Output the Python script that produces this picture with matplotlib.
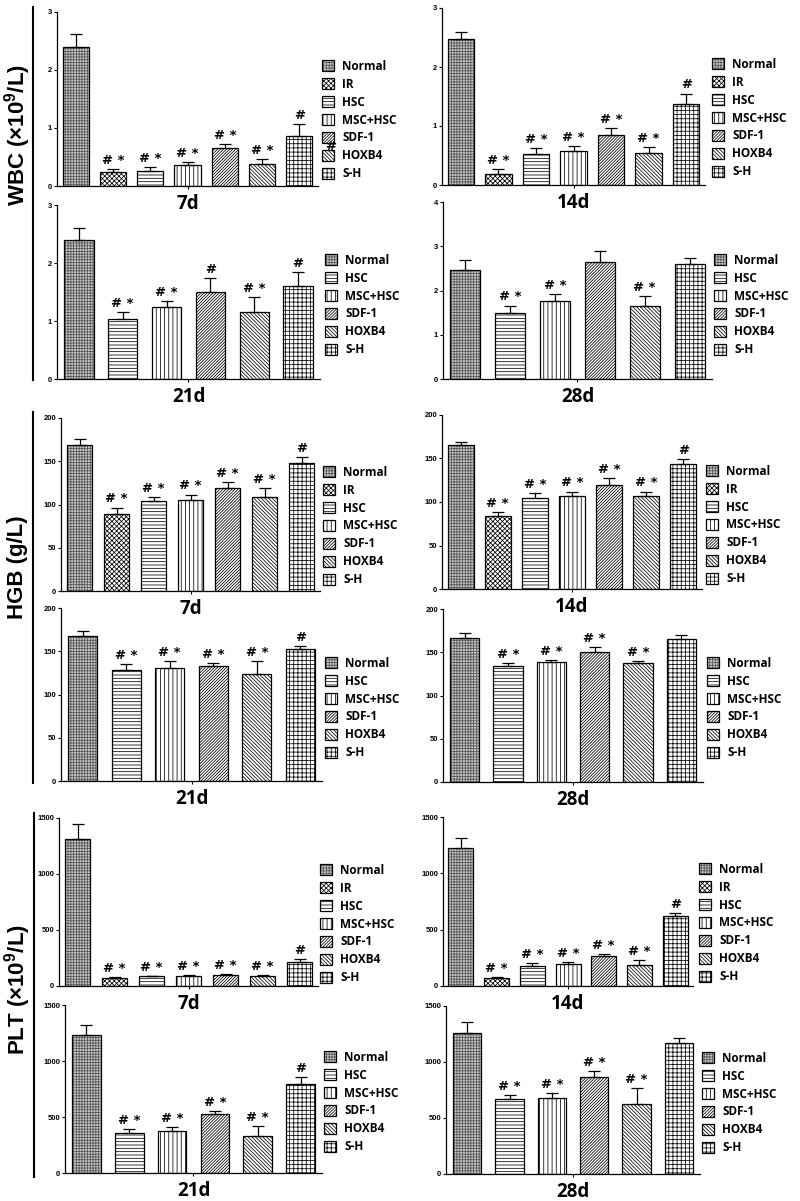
##############################
#   MODULE IMPORTS
##############################
import numpy as np

## Graphics modules
import matplotlib as mpl
mpl.rcParams['hatch.linewidth'] = 0.55
mpl.rcParams['font.family'] = ['Open Sans', 'DejaVu Sans']
mpl.rcParams['mathtext.fontset'] = 'custom'
mpl.rcParams['mathtext.rm'] = 'Liberation Sans'
mpl.rcParams['mathtext.bf'] = 'Liberation Sans:bold'
from matplotlib import pyplot as plt
from matplotlib.patches import Patch
from matplotlib.lines import Line2D

W, H = 800, 1201

##############################
#   DATA
##############################
groups_ir = ['Normal', 'IR', 'HSC', 'MSC+HSC', 'SDF-1', 'HOXB4', 'S-H']
groups_no_ir = ['Normal', 'HSC', 'MSC+HSC', 'SDF-1', 'HOXB4', 'S-H']
days = ['7d', '14d', '21d', '28d']

# - WBC (x10^9/L), one list per day
wbc_mean = [
	[2.40, 0.25, 0.26, 0.36, 0.66, 0.38, 0.86],
	[2.48, 0.18, 0.52, 0.57, 0.84, 0.54, 1.38],
	[2.40, 1.04, 1.25, 1.50, 1.16, 1.60],
	[2.47, 1.50, 1.76, 2.65, 1.64, 2.60],
]
wbc_err = [
	[0.22, 0.05, 0.06, 0.05, 0.06, 0.09, 0.21],
	[0.11, 0.09, 0.11, 0.09, 0.12, 0.11, 0.17],
	[0.20, 0.11, 0.10, 0.24, 0.25, 0.24],
	[0.23, 0.16, 0.15, 0.25, 0.24, 0.13],
]
wbc_sig = [
	['', '#*', '#*', '#*', '#*', '#*', '#'],
	['', '#*', '#*', '#*', '#*', '#*', '#'],
	['', '#*', '#*', '#', '#*', '#'],
	['', '#*', '#*', '', '#*', ''],
]

# - HGB (g/L)
hgb_mean = [
	[169, 88.5, 104, 105.5, 119, 109, 148],
	[166, 84, 105, 107, 120, 107, 144],
	[168, 128, 130.5, 133, 123.5, 152.5],
	[167, 134, 138.5, 150, 137.5, 165.5],
]
hgb_err = [
	[7, 8, 4.5, 6, 6.5, 9.5, 6.5],
	[3, 4.5, 5, 5, 7.5, 5, 5],
	[5, 7, 8.5, 3.5, 15.5, 4],
	[5.5, 3, 2.5, 5.5, 2.5, 5],
]
hgb_sig = [
	['', '#*', '#*', '#*', '#*', '#*', '#'],
	['', '#*', '#*', '#*', '#*', '#*', '#'],
	['', '#*', '#*', '#*', '#*', '#'],
	['', '#*', '#*', '#*', '#*', ''],
]

# - PLT (x10^9/L)
plt_mean = [
	[1309, 75, 86, 90, 101, 92, 212],
	[1225, 68, 180, 198, 266, 183, 624],
	[1230, 354, 374, 526, 333, 799],
	[1259, 673, 679, 869, 628, 1170],
]
plt_err = [
	[137, 9, 6, 6, 6, 9, 32],
	[91, 12, 27, 12, 15, 51, 27],
	[89, 35, 39, 24, 83, 60],
	[98, 29, 44, 51, 137, 47],
]
plt_sig = [
	['', '#*', '#*', '#*', '#*', '#*', '#'],
	['', '#*', '#*', '#*', '#*', '#*', '#'],
	['', '#*', '#*', '#*', '#*', '#'],
	['', '#*', '#*', '#*', '#*', ''],
]

wbc_ticks = [[0, 1, 2, 3], [0, 1, 2, 3], [0, 1, 2, 3], [0, 1, 2, 3, 4]]
hgb_ticks = [0, 50, 100, 150, 200]
plt_ticks = [0, 500, 1000, 1500]

group_labels = [r'WBC (×10$^{\mathbf{9}}$/L)', 'HGB (g/L)', r'PLT (×10$^{\mathbf{9}}$/L)']

##############################
#   STYLE / LAYOUT (pixels)
##############################
# - face colour, hatch, hatch colour
bar_style = {
	'Normal':  ('#c4c4c4', '++++++', '#555555'),
	'IR':      ('white', 'xxxxxxx', 'k'),
	'HSC':     ('white', '-----', 'k'),
	'MSC+HSC': ('white', '||||', 'k'),
	'SDF-1':   ('white', '/' * 11, 'k'),
	'HOXB4':   ('white', '\\' * 9, 'k'),
	'S-H':     ('white', '++++', 'k'),
}

# - (x_left, y_top, x_right, y_bottom) of each axis
panel_boxes = [
	[(57, 12, 318, 186), (442, 8, 705, 185), (57, 205, 320, 379), (443, 202, 712, 379)],
	[(61, 418, 320, 591), (442, 415, 702, 589), (61, 608, 322, 781), (443, 609, 703, 782)],
	[(59, 818, 318, 986), (443, 817, 693, 986), (65, 1005, 322, 1173), (446, 1006, 700, 1174)],
]
# - (x_left, y_center) of each legend
legend_pos = [
	[(322, 120), (712, 118), (325, 305), (714, 305)],
	[(323, 526), (706, 525), (325, 708), (707, 708)],
	[(320, 924), (699, 923), (324, 1102), (702, 1103)],
]
# - Side group label centers and bracket lines
group_label_pos = [(18, 135), (18, 567), (18, 990)]
group_lines = [(33, 7, 380), (33, 412, 783), (34, 813, 1177)]


def draw_panel(fig, box, labels, means, errs, sigs, yticks, title, leg_xy):
	""" Draw one bar panel with error bars, marks and legend """

	x0, yt, x1, yb = box
	ax = fig.add_axes([x0/W, 1 - yb/H, (x1 - x0)/W, (yb - yt)/H])

	n = len(labels)
	x = np.arange(n)
	width = 0.7 if n == 7 else 0.67

	# - Bars (hatch layer, then black outline)
	for i, lab in enumerate(labels):
		fc, hatch, hc = bar_style[lab]
		ax.bar(x[i], means[i], width=width, color=fc, hatch=hatch,
			edgecolor=hc, linewidth=0, zorder=2)
		ax.bar(x[i], means[i], width=width, fill=False,
			edgecolor='k', linewidth=0.9, zorder=2.5)

	# - Upper error bars
	ax.errorbar(x, means, yerr=[np.zeros(n), errs], fmt='none', ecolor='k',
		elinewidth=0.9, capsize=4, capthick=0.9, zorder=3)

	# - Significance marks
	for i, s in enumerate(sigs):
		if s == '':
			continue
		txt = s.replace('#*', '# *')
		ax.annotate(txt, (x[i], means[i] + errs[i]), xytext=(0, 1.5),
			textcoords='offset points', ha='center', va='bottom',
			fontsize=9.5, fontweight='bold', family='DejaVu Sans')

	# - Axes
	ax.set_xlim(-0.5, n - 0.5)
	ax.set_ylim(0, yticks[-1])
	ax.set_yticks(yticks)
	ax.set_xticks([(n - 1)/2.])
	ax.set_xticklabels([''])
	for sp in ['top', 'right']:
		ax.spines[sp].set_visible(False)
	for sp in ['left', 'bottom']:
		ax.spines[sp].set_linewidth(0.9)
	ax.tick_params(axis='both', direction='out', length=2.5, width=0.8, pad=1)
	ax.tick_params(axis='y', labelsize=5.5)
	for t in ax.get_yticklabels():
		t.set_fontweight('bold')
		t.set_family(['Liberation Sans', 'DejaVu Sans'])

	# - Legend
	handles = []
	for l in labels:
		fc, hatch, hc = bar_style[l]
		p_fill = Patch(facecolor=fc, hatch=hatch, edgecolor=hc, linewidth=0)
		p_edge = Patch(fill=False, edgecolor='k', linewidth=0.9)
		handles.append((p_fill, p_edge))
	lx, ly = leg_xy
	leg = ax.legend(handles=handles, labels=labels, loc='center left',
		bbox_to_anchor=(lx/W, 1 - ly/H),
		bbox_transform=fig.transFigure, frameon=False, fontsize=8.5,
		handlelength=1.0, handleheight=1.0, handletextpad=0.7,
		labelspacing=0.42, borderpad=0, borderaxespad=0)
	for t in leg.get_texts():
		t.set_fontweight('bold')

	# - Day title under the axis
	fig.text((x0 + x1)/2./W, 1 - (yb + 18)/H, title, ha='center', va='center',
		fontsize=13.5, fontweight='bold')

	return ax


##############################
#   PLOT
##############################
fig = plt.figure(figsize=(W/100., H/100.), dpi=100)

means_all = [wbc_mean, hgb_mean, plt_mean]
errs_all = [wbc_err, hgb_err, plt_err]
sigs_all = [wbc_sig, hgb_sig, plt_sig]
ticks_all = [wbc_ticks, [hgb_ticks]*4, [plt_ticks]*4]

for g in range(3):
	for d in range(4):
		labels = groups_ir if d < 2 else groups_no_ir
		ax = draw_panel(fig, panel_boxes[g][d], labels, means_all[g][d], errs_all[g][d],
			sigs_all[g][d], ticks_all[g][d], days[d], legend_pos[g][d])
		if g == 0 and d == 0:
			# - Stray mark next to the legend in the original figure
			fig.text(331/W, 1 - 146/H, '#', ha='center', va='center', fontsize=9.5,
				fontweight='bold', family='DejaVu Sans')

# - Side labels and bracket lines
for (lx, ly), lab in zip(group_label_pos, group_labels):
	fig.text(lx/W, 1 - ly/H, lab, rotation=90, ha='center', va='center', fontsize=16,
		fontweight='bold', family=['Liberation Sans', 'DejaVu Sans'])
for (lx, y0, y1) in group_lines:
	fig.add_artist(Line2D([lx/W, lx/W], [1 - y0/H, 1 - y1/H], color='k', lw=1.5,
		transform=fig.transFigure))

plt.savefig('out.png', dpi=100)
